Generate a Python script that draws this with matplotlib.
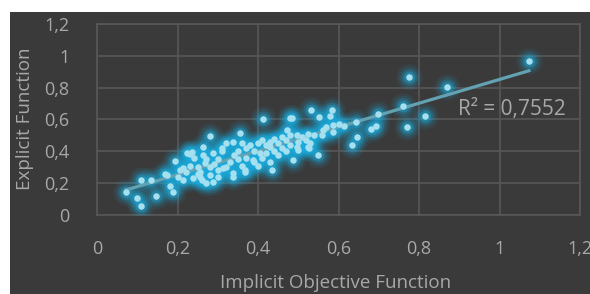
import numpy as np
import matplotlib
matplotlib.use('Agg')
import matplotlib.pyplot as plt
from matplotlib.patches import Rectangle

# implicit objective function (x) vs explicit function (y)
implicit_x = [0.072, 0.099, 0.109, 0.109, 0.133, 0.147, 0.181, 0.188, 0.173, 0.195,
              0.206, 0.214, 0.224, 0.235, 0.256, 0.252, 0.264, 0.281, 0.289, 0.272,
              0.289, 0.268, 0.239, 0.214, 0.231, 0.256, 0.264, 0.281, 0.170, 0.300,
              0.310, 0.320, 0.314, 0.339, 0.339, 0.368, 0.368, 0.388, 0.405, 0.430,
              0.434, 0.339, 0.355, 0.360, 0.370, 0.380, 0.390, 0.400, 0.410, 0.420,
              0.430, 0.440, 0.450, 0.460, 0.470, 0.480, 0.413, 0.480, 0.471, 0.488,
              0.499, 0.496, 0.525, 0.526, 0.550, 0.496, 0.510, 0.525, 0.540, 0.531,
              0.552, 0.579, 0.585, 0.614, 0.587, 0.562, 0.587, 0.484, 0.340, 0.350,
              0.320, 0.300, 0.290, 0.330, 0.370, 0.390, 0.410, 0.420, 0.440, 0.460,
              0.450, 0.480, 0.300, 0.280, 0.260, 0.250, 0.220, 0.200, 0.230, 0.240,
              0.270, 0.310, 0.350, 0.360, 0.400, 0.430, 0.470, 0.500, 0.520, 0.530,
              0.560, 0.570, 0.600, 0.643, 0.647, 0.634, 0.681, 0.692, 0.697, 0.770,
              0.815, 0.761, 0.869, 0.776, 1.073]
explicit_y = [0.147, 0.105, 0.057, 0.220, 0.220, 0.121, 0.182, 0.147, 0.252, 0.340,
              0.283, 0.220, 0.388, 0.398, 0.241, 0.304, 0.430, 0.497, 0.388, 0.200,
              0.210, 0.325, 0.230, 0.294, 0.384, 0.272, 0.377, 0.304, 0.260, 0.350,
              0.400, 0.300, 0.294, 0.241, 0.262, 0.272, 0.283, 0.346, 0.388, 0.430,
              0.283, 0.461, 0.514, 0.450, 0.420, 0.440, 0.400, 0.450, 0.470, 0.440,
              0.460, 0.480, 0.450, 0.490, 0.470, 0.500, 0.604, 0.612, 0.535, 0.346,
              0.409, 0.430, 0.430, 0.420, 0.377, 0.500, 0.490, 0.510, 0.500, 0.660,
              0.618, 0.623, 0.660, 0.562, 0.524, 0.535, 0.566, 0.608, 0.380, 0.350,
              0.450, 0.280, 0.320, 0.330, 0.360, 0.330, 0.360, 0.390, 0.400, 0.420,
              0.380, 0.440, 0.240, 0.250, 0.220, 0.260, 0.270, 0.240, 0.310, 0.360,
              0.350, 0.420, 0.400, 0.310, 0.310, 0.330, 0.400, 0.460, 0.470, 0.450,
              0.500, 0.550, 0.570, 0.583, 0.493, 0.438, 0.541, 0.558, 0.637, 0.553,
              0.620, 0.686, 0.805, 0.870, 0.970]

ticks = [0, 0.2, 0.4, 0.6, 0.8, 1.0, 1.2]
tick_labels = ['0', '0,2', '0,4', '0,6', '0,8', '1', '1,2']
r2_text = 'R² = 0,7552'

bg = '#3a3a3a'
grid_col = '#585858'
txt_col = '#a8a8a8'
plt.rcParams['font.family'] = ['Open Sans', 'DejaVu Sans']

fig = plt.figure(figsize=(5.9, 2.94), dpi=100)
fig.patch.set_facecolor('white')
fig.patches.append(Rectangle((10 / 590, 0), 1, 1 - 12 / 294, transform=fig.transFigure,
                             facecolor=bg, edgecolor='none', zorder=-10))

ax = fig.add_axes([97 / 590, 1 - 215 / 294, 483 / 590, 191 / 294])
ax.set_zorder(2)
ax.set_facecolor(bg)
ax.set_xlim(0, 1.2)
ax.set_ylim(0, 1.2)
ax.set_xticks(ticks)
ax.set_yticks(ticks)
ax.set_xticklabels(tick_labels)
ax.set_yticklabels(tick_labels)
ax.grid(True, color=grid_col, linewidth=1.2)
ax.set_axisbelow(True)
for s in ax.spines.values():
    s.set_color(grid_col)
    s.set_linewidth(1.2)
ax.tick_params(length=0, colors=txt_col, labelsize=13)
ax.tick_params(axis='x', pad=18)
ax.tick_params(axis='y', pad=20)

x = np.array(implicit_x)
y = np.array(explicit_y)

# glow
for size, a in [(360, 0.08), (230, 0.13), (135, 0.22), (70, 0.38)]:
    ax.scatter(x, y, s=size, color='#1aaee0', alpha=a, linewidths=0, zorder=3)

# trend line
k, b = np.polyfit(x, y, 1)
xl = np.array([x.min(), x.max()])
ax.plot(xl, k * xl + b, color='#62a2b2', linewidth=2.3, zorder=4)

ax.scatter(x, y, s=22, color='#a4e0f0', linewidths=0, zorder=5)

ax.text(0.897, 0.665, r2_text, color=txt_col, fontsize=15, va='center', ha='left', zorder=6)

fig.text(25 / 590, 1 - 119 / 294, 'Explicit Function', rotation=90, color=txt_col,
         fontsize=13.5, ha='center', va='center')
fig.text(336 / 590, 1 - 283 / 294, 'Implicit Objective Function', color=txt_col,
         fontsize=13.5, ha='center', va='center')

fig.savefig('out.png', dpi=100, facecolor=fig.get_facecolor())
